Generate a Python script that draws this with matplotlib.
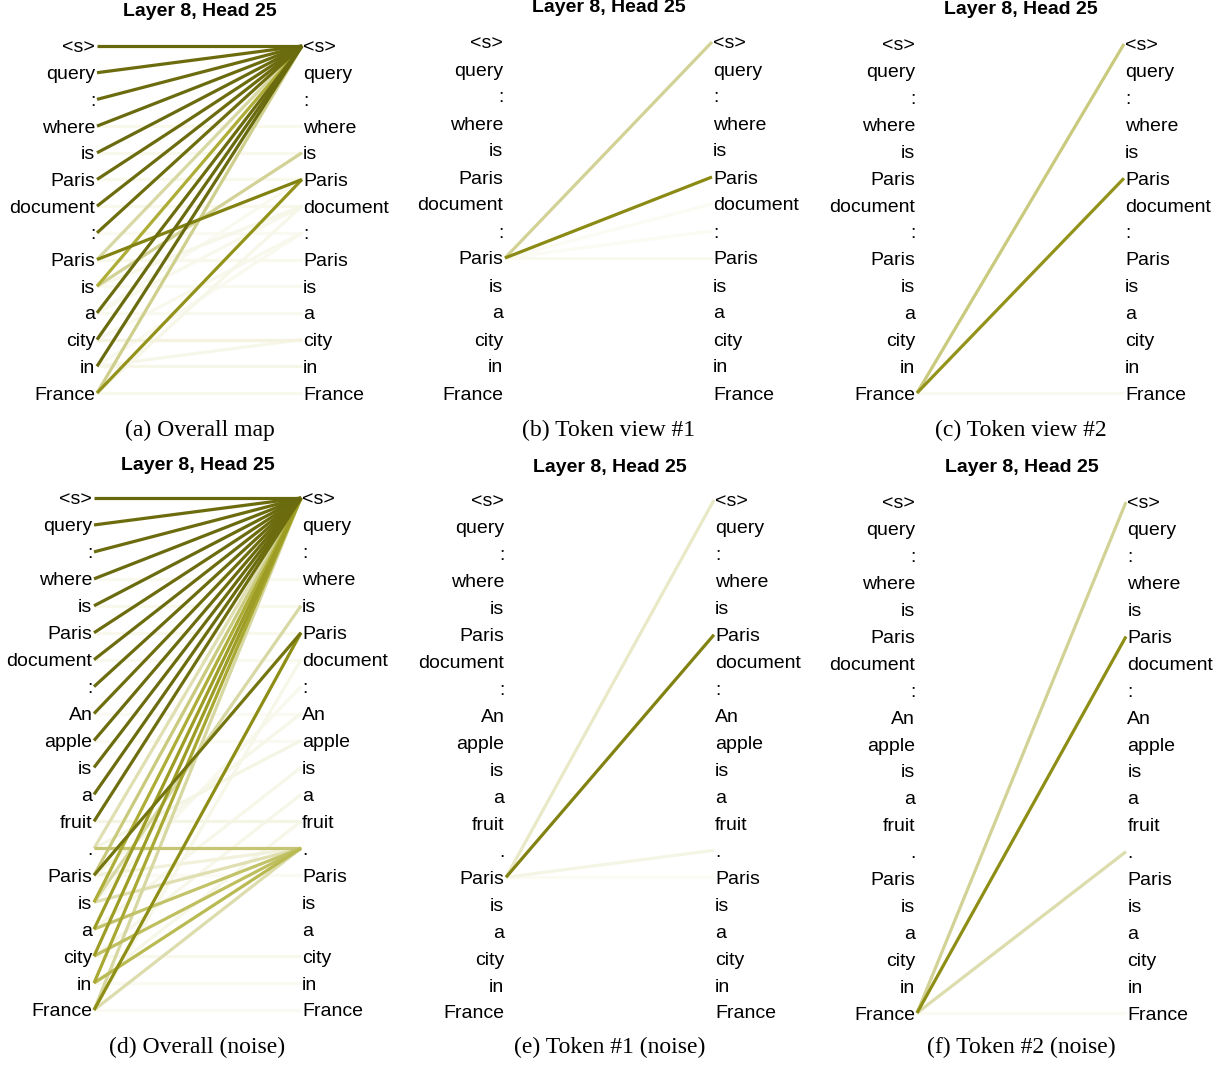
import numpy as np
import matplotlib.pyplot as plt
from matplotlib.colors import LinearSegmentedColormap

W, H = 1226, 1068

tokens_short = ["<s>", "query", ":", "where", "is", "Paris", "document", ":",
                "Paris", "is", "a", "city", "in", "France"]
tokens_noise = ["<s>", "query", ":", "where", "is", "Paris", "document", ":",
                "An", "apple", "is", "a", "fruit", ".",
                "Paris", "is", "a", "city", "in", "France"]

# (source row, target row, attention weight)
attn_a = [(0, 0, .93), (1, 0, .91), (2, 0, .91), (3, 0, .92), (4, 0, .92),
          (5, 0, .91), (6, 0, .91), (7, 0, .90), (8, 0, .35), (8, 5, .80),
          (9, 0, .62), (9, 4, .40), (10, 0, .91), (11, 0, .92), (12, 0, .92),
          (13, 0, .42), (13, 5, .72),
          (3, 3, .08), (4, 4, .08), (5, 5, .08), (6, 6, .08), (7, 7, .06),
          (8, 8, .08), (9, 9, .07), (10, 10, .07), (11, 11, .14), (12, 12, .1),
          (13, 13, .08), (9, 6, .1), (10, 6, .08), (11, 7, .08), (12, 11, .1),
          (13, 6, .1), (12, 7, .07), (10, 5, .07)]
attn_b = [(8, 0, .40), (8, 5, .76), (8, 6, .05), (8, 7, .05), (8, 8, .07)]
attn_c = [(13, 0, .45), (13, 5, .72), (13, 13, .07)]
attn_d = [(0, 0, .93), (1, 0, .91), (2, 0, .91), (3, 0, .92), (4, 0, .92),
          (5, 0, .91), (6, 0, .91), (7, 0, .91), (8, 0, .90), (9, 0, .91),
          (10, 0, .91), (11, 0, .91), (12, 0, .90),
          (13, 13, .48), (13, 0, .30), (14, 5, .86), (14, 0, .45), (14, 13, .15),
          (15, 0, .62), (15, 4, .35), (15, 13, .30), (16, 0, .68), (16, 13, .50),
          (17, 0, .68), (17, 13, .52), (18, 0, .64), (18, 13, .55),
          (19, 5, .74), (19, 13, .32), (19, 0, .36),
          (3, 3, .07), (4, 4, .08), (5, 5, .08), (6, 6, .07), (8, 8, .06),
          (9, 9, .06), (12, 12, .12), (14, 14, .06), (17, 17, .08), (18, 18, .06),
          (19, 19, .06), (13, 9, .12), (14, 8, .1), (16, 10, .1), (17, 11, .1),
          (15, 7, .08), (18, 12, .1), (19, 6, .1)]
attn_e = [(14, 0, .22), (14, 5, .80), (14, 13, .12), (14, 14, .05)]
attn_f = [(19, 0, .40), (19, 5, .74), (19, 13, .32), (19, 19, .06)]

captions = ["(a) Overall map", "(b) Token view #1", "(c) Token view #2",
            "(d) Overall (noise)", "(e) Token #1 (noise)", "(f) Token #2 (noise)"]

# panel geometry in pixels: left anchor, right anchor, first row, last row, title y, caption y
panels = [
    (97, 302, 46, 393, 12, 430, tokens_short, attn_a),
    (505, 712, 42, 393, 8, 430, tokens_short, attn_b),
    (917, 1124, 44, 393, 10, 430, tokens_short, attn_c),
    (94, 301, 498, 1010, 465, 1047, tokens_noise, attn_d),
    (506, 714, 500, 1012, 467, 1047, tokens_noise, attn_e),
    (917, 1126, 502, 1013, 467, 1047, tokens_noise, attn_f),
]

cmap = LinearSegmentedColormap.from_list(
    "olive", [(0.0, "#ffffff"), (0.12, "#f5f5e4"), (0.4, "#d2d296"),
              (0.6, "#b2b23c"), (0.75, "#8c8c14"), (1.0, "#5a5a0c")])

sans = ["Liberation Sans", "DejaVu Sans"]
serif = ["Liberation Serif", "DejaVu Serif"]

fig = plt.figure(figsize=(W / 100, H / 100), dpi=100)

for (xl, xr, yt, yb, ty, cy, toks, attn), cap in zip(panels, captions):
    n = len(toks)
    ax = fig.add_axes([xl / W, 1 - yb / H, (xr - xl) / W, (yb - yt) / H])
    ax.set_xlim(0, 1)
    ax.set_ylim(n - 1, 0)
    ax.axis("off")
    for s, t, w in sorted(attn, key=lambda a: a[2]):
        ax.plot([0, 1], [s, t], color=cmap(w), lw=2.3, solid_capstyle="butt",
                clip_on=False)
    for i, tok in enumerate(toks):
        ax.text(-0.008, i, tok, ha="right", va="center_baseline", fontsize=14,
                family=sans)
        ax.text(1.006, i, tok, ha="left", va="center_baseline", fontsize=14,
                family=sans)
    cx = (xl + xr) / 2
    fig.text(cx / W, 1 - ty / H, "Layer 8, Head 25", ha="center", va="center",
             fontsize=14, fontweight="bold", family=sans)
    fig.text(cx / W, 1 - cy / H, cap, ha="center", va="center", fontsize=17,
             family=serif)

fig.savefig("out.png", dpi=100)
